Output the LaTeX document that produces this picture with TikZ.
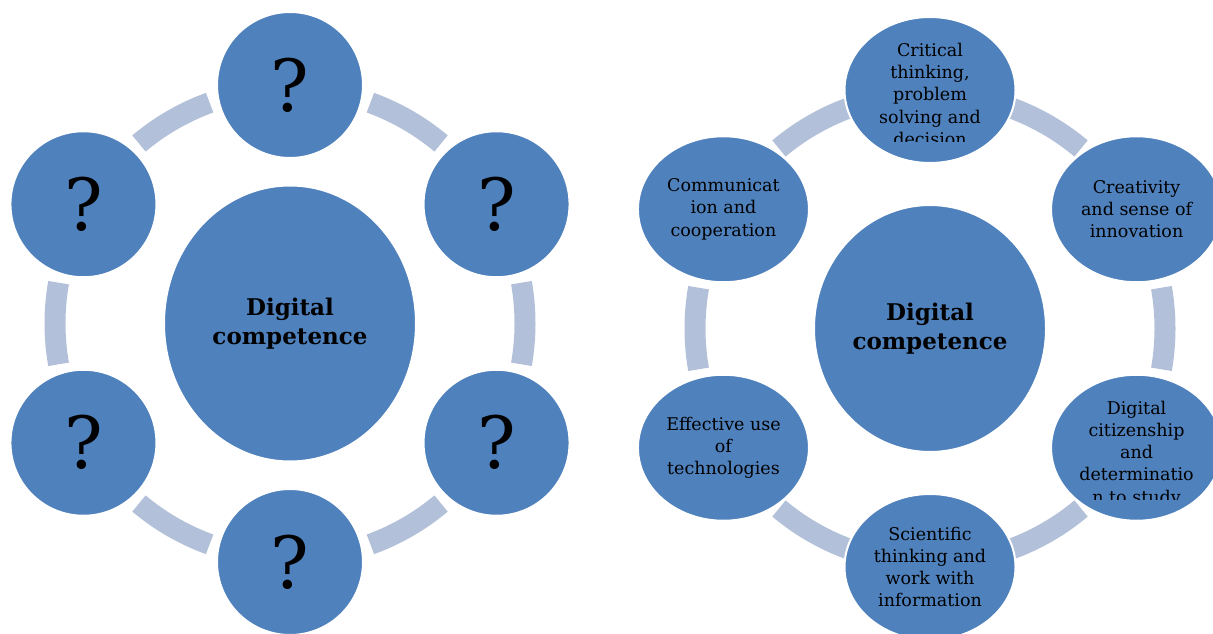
\documentclass[tikz,border=0pt]{standalone}
\usepackage{fontspec}
\setmainfont{DejaVu Serif}
\usetikzlibrary{shapes.geometric, calc}

\definecolor{bubble}{RGB}{79,129,189}
\definecolor{ringclr}{RGB}{178,193,217}

\begin{document}
\begin{tikzpicture}[
    x=1pt, y=1pt,
    every node/.style={align=center, inner sep=0pt},
    hub/.style   ={ellipse, fill=bubble, draw=white, line width=2pt,
                   font=\fontsize{23}{29}\selectfont\bfseries},
    quest/.style ={circle, fill=bubble, draw=white, line width=2pt,
                   minimum size=146pt, font=\fontsize{72}{80}\selectfont},
    skill/.style ={ellipse, fill=bubble, draw=white, line width=2pt,
                   minimum width=171pt, minimum height=146pt,
                   font=\fontsize{17.5}{22.2}\selectfont},
    skilltxt/.style={font=\fontsize{17.5}{22.2}\selectfont, anchor=north},
    ring/.style  ={draw=ringclr, line width=21pt},
  ]

  \clip (0,0) rectangle (1213,633);

  %% --- geometry ----------------------------------------------------------
  \def\rOrb{238.5}  % hub centre -> satellite centre
  \def\rRing{235}   % radius of the connecting ring
  \def\gap{20}      % free angle on each side of a satellite

  \coordinate (lc) at (290,309.5);
  \coordinate (rc) at (930,304.5);

  %% --- ring segments (behind the bubbles) --------------------------------
  \foreach \a in {90,30,-30,-90,-150,150}{
    \draw[ring] ([shift={(\a-\gap:\rRing)}]lc)
      arc[start angle=\a-\gap, end angle=\a-60+\gap, radius=\rRing];
    \draw[ring] ([shift={(\a-\gap:\rRing)}]rc)
      arc[start angle=\a-\gap, end angle=\a-60+\gap, radius=\rRing];
  }

  %% --- left: hub and unknown satellites ----------------------------------
  \node[hub, minimum width=252pt, minimum height=276pt] (lhub) at (lc)
       {Digital\\competence};
  \foreach \a [count=\i] in {90,30,-30,-90,-150,150}
    \node[quest] (q\i) at ([shift={(\a:\rOrb)}]lc) {?};

  %% --- right: hub and named satellites -----------------------------------
  \node[hub, minimum width=232pt, minimum height=247pt] (rhub) at (rc)
       {Digital\\competence};

  \node[skill] (crit)  at ([shift={(90:\rOrb)}]rc)   {};
  \node[skill] (creat) at ([shift={(30:\rOrb)}]rc)   {Creativity\\and sense of\\innovation};
  \node[skill] (citiz) at ([shift={(-30:\rOrb)}]rc)  {};
  \node[skill] (sci)   at ([shift={(-90:\rOrb)}]rc)  {Scientific\\thinking and\\work with\\information};
  \node[skill] (eff)   at ([shift={(-150:\rOrb)}]rc) {Effective use\\of\\technologies};
  \node[skill] (comm)  at ([shift={(150:\rOrb)}]rc)  {Communicat\\ion and\\cooperation};

  %% --- overflowing labels, cut at the inner text box ---------------------
  \begin{scope}
    \clip ($(crit)+(-60.5,-51.6)$) rectangle ($(crit)+(60.5,51.6)$);
    \node[skilltxt] (crittxt) at ($(crit)+(0,47)$)
         {Critical\\thinking,\\problem\\solving and\\decision};
  \end{scope}
  \begin{scope}
    \clip ($(citiz)+(-60.5,-51.6)$) rectangle ($(citiz)+(60.5,51.6)$);
    \node[skilltxt] (citiztxt) at ($(citiz)+(0,47)$)
         {Digital\\citizenship\\and\\determinatio\\n to study};
  \end{scope}

\end{tikzpicture}
\end{document}
